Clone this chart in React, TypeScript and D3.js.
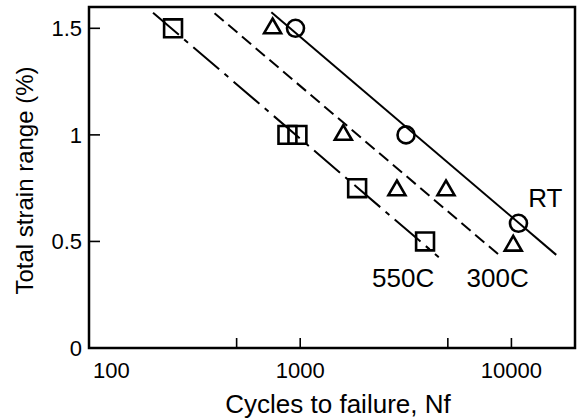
import React from 'react';
import * as d3 from 'd3';

// cycles to failure (Nf) and total strain range (%)
const rtCycles = [950, 3170, 10800];
const rtStrain = [1.5, 1.0, 0.585];
const c300Cycles = [740, 1600, 2870, 4900, 10200];
const c300Strain = [1.5, 1.0, 0.74, 0.74, 0.48];
const c550Cycles = [250, 870, 970, 1860, 3900];
const c550Strain = [1.5, 1.0, 1.0, 0.75, 0.5];

// fitted lines (start / end)
const rtFitCycles = [730, 16300];
const rtFitStrain = [1.575, 0.437];
const c300FitCycles = [393, 8850];
const c300FitStrain = [1.571, 0.432];
const c550FitCycles = [201, 4530];
const c550FitStrain = [1.573, 0.426];

const xTicks = [500, 1000, 5000, 10000];
const xTickLabels = [100, 1000, 10000];
const yTicks = [0.5, 1, 1.5];
const yTickLabels = ['0', '0.5', '1', '1.5'];
const yTickValues = [0, 0.5, 1, 1.5];

const width = 585;
const height = 418;
const margin = { top: 7, right: 10, bottom: 70, left: 89 };
const font = '"Liberation Sans", Arial, Helvetica, sans-serif';

const App = () => {
  const x = d3
    .scaleLog()
    .domain([100, 20000])
    .range([margin.left, width - margin.right]);
  const y = d3
    .scaleLinear()
    .domain([0, 1.6])
    .range([height - margin.bottom, margin.top]);

  const line = d3
    .line<[number, number]>()
    .x(d => x(d[0]))
    .y(d => y(d[1]));

  const zip = (a: number[], b: number[]) => a.map((v, i) => [v, b[i]] as [number, number]);

  const circle = d3.symbol().type(d3.symbolCircle).size(227)();
  const square = d3.symbol().type(d3.symbolSquare).size(320)();
  const triangle = d3.symbol().type(d3.symbolTriangle).size(125)();

  const x0 = x.range()[0], x1 = x.range()[1];
  const y0 = y.range()[0], y1 = y.range()[1];

  const markers = (cyc: number[], str: number[], path: string | null, key: string) =>
    cyc.map((c, i) => (
      <path
        key={key + i}
        d={path || ''}
        transform={`translate(${x(c)},${y(str[i])})`}
        fill="none"
        stroke="#000"
        strokeWidth={2.6}
      />
    ));

  return (
    <div style={{ position: 'fixed', left: 0, top: 0, background: '#fff' }}>
      <svg width={width} height={height} style={{ display: 'block' }}>
        <rect width={width} height={height} fill="#fff" />

        {/* fitted lines */}
        <path d={line(zip(rtFitCycles, rtFitStrain)) || ''} fill="none" stroke="#000" strokeWidth={2} />
        <path
          d={line(zip(c300FitCycles, c300FitStrain)) || ''}
          fill="none"
          stroke="#000"
          strokeWidth={2}
          strokeDasharray="12,6"
        />
        <path
          d={line(zip(c550FitCycles, c550FitStrain)) || ''}
          fill="none"
          stroke="#000"
          strokeWidth={2}
          strokeDasharray="34,7,5,7"
        />

        {markers(rtCycles, rtStrain, circle, 'rt')}
        {markers(c300Cycles, c300Strain, triangle, 't')}
        {markers(c550Cycles, c550Strain, square, 's')}

        {/* frame */}
        <rect x={x0} y={y1} width={x1 - x0} height={y0 - y1} fill="none" stroke="#000" strokeWidth={2.5} />

        {/* ticks, inward */}
        {xTicks.map(t => (
          <line key={'xt' + t} x1={x(t)} x2={x(t)} y1={y0} y2={y0 - 10} stroke="#000" strokeWidth={1.6} />
        ))}
        {yTicks.map(t => (
          <line key={'yt' + t} x1={x0} x2={x0 + 11} y1={y(t)} y2={y(t)} stroke="#000" strokeWidth={1.6} />
        ))}

        <g fontFamily={font} fontSize={22} fill="#000">
          {xTickLabels.map(t => (
            <text
              key={'xl' + t}
              x={t === 100 ? x(t) + 4 : x(t)}
              y={y0 + 30}
              textAnchor={t === 100 ? 'start' : 'middle'}
            >
              {t}
            </text>
          ))}
          {yTickValues.map((t, i) => (
            <text key={'yl' + t} x={x0 - 7} y={y(t)} dy="0.36em" textAnchor="end">
              {yTickLabels[i]}
            </text>
          ))}
        </g>

        <g fontFamily={font} fontSize={26} fill="#000">
          <text x={(x0 + x1) / 2 + 6} y={height - 5} textAnchor="middle">
            Cycles to failure, Nf
          </text>
          <text
            transform={`translate(33,${(y0 + y1) / 2 + 3}) rotate(-90)`}
            textAnchor="middle"
            fontSize={24}
          >
            Total strain range (%)
          </text>
          <text x={x(12000)} y={y(0.662)}>RT</text>
          <text x={x(2190)} y={y(0.286)}>550C</text>
          <text x={x(6130)} y={y(0.286)}>300C</text>
        </g>
      </svg>
    </div>
  );
};

export default App;
